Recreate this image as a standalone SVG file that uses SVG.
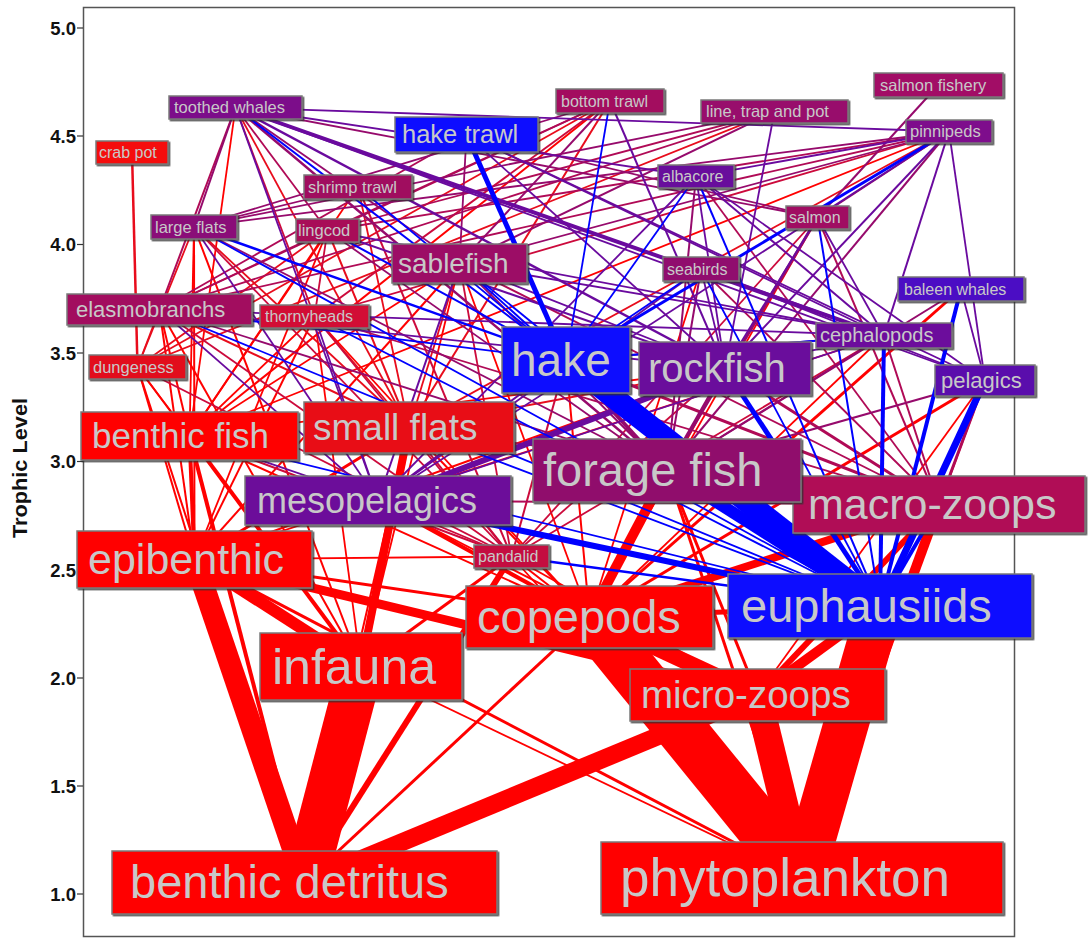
<svg xmlns="http://www.w3.org/2000/svg" width="1091" height="938" viewBox="0 0 1091 938">
<style>
.R{stroke:#ff0000}.D{stroke:#e80c1c}.B{stroke:#0000ff}.P{stroke:#6a0a9e}.M{stroke:#960a6c}.C{stroke:#b00a56}.K{stroke:#cc0a3c}
.bx{stroke:#7a7a7a;stroke-width:1.5}
.t{font-family:"Liberation Sans",Arial,sans-serif;fill:#c8c8c8}
.ax{font-family:"Liberation Sans",Arial,sans-serif;font-weight:bold;fill:#111;font-size:18.5px;text-anchor:end}
</style>
<defs>
<filter id="sh" x="-5%" y="-10%" width="115%" height="130%"><feDropShadow dx="1.5" dy="1.5" stdDeviation="0.7" flood-color="#333" flood-opacity="0.8"/></filter>
</defs>
<rect x="0" y="0" width="1091" height="938" fill="#ffffff"/>
<g id="axes">
<rect x="83.5" y="7.5" width="931" height="929" fill="none" stroke="#555" stroke-width="1.5"/>
<g stroke="#333" stroke-width="1.2">
<line x1="77" y1="28" x2="83" y2="28"/><line x1="77" y1="136" x2="83" y2="136"/><line x1="77" y1="244.5" x2="83" y2="244.5"/><line x1="77" y1="353" x2="83" y2="353"/><line x1="77" y1="461.5" x2="83" y2="461.5"/><line x1="77" y1="570" x2="83" y2="570"/><line x1="77" y1="678" x2="83" y2="678"/><line x1="77" y1="786" x2="83" y2="786"/><line x1="77" y1="894" x2="83" y2="894"/>
</g>
<text class="ax" x="76" y="34.5">5.0</text>
<text class="ax" x="76" y="142.5">4.5</text>
<text class="ax" x="76" y="251">4.0</text>
<text class="ax" x="76" y="359.5">3.5</text>
<text class="ax" x="76" y="468">3.0</text>
<text class="ax" x="76" y="576.5">2.5</text>
<text class="ax" x="76" y="684.5">2.0</text>
<text class="ax" x="76" y="792.5">1.5</text>
<text class="ax" x="76" y="900.5">1.0</text>
<text x="0" y="0" transform="translate(26.5,468) rotate(-90)" font-family="Liberation Sans, Arial, sans-serif" font-weight="bold" font-size="20" fill="#111" text-anchor="middle" textLength="140" lengthAdjust="spacingAndGlyphs">Trophic Level</text>
</g>
<g id="connectors" fill="none" stroke-width="1.8">
<line x1="361" y1="666.5" x2="304.5" y2="882.5" class="R" stroke-width="45"/>
<line x1="194.5" y1="559.5" x2="304.5" y2="882.5" class="R" stroke-width="22"/>
<line x1="757.5" y1="695" x2="304.5" y2="882.5" class="R" stroke-width="18"/>
<line x1="194.5" y1="559.5" x2="361" y2="666.5" class="R" stroke-width="12"/>
<line x1="194.5" y1="559.5" x2="757.5" y2="695" class="R" stroke-width="9"/>
<line x1="589.5" y1="617" x2="802" y2="878" class="R" stroke-width="50"/>
<line x1="880" y1="606" x2="802" y2="878" class="R" stroke-width="45"/>
<line x1="757.5" y1="695" x2="802" y2="878" class="R" stroke-width="28"/>
<line x1="589.5" y1="617" x2="757.5" y2="695" class="R" stroke-width="16"/>
<line x1="880" y1="606" x2="757.5" y2="695" class="R" stroke-width="10"/>
<line x1="880" y1="606" x2="589.5" y2="617" class="R" stroke-width="5"/>
<line x1="939" y1="504.5" x2="802" y2="878" class="R" stroke-width="10"/>
<line x1="939" y1="504.5" x2="589.5" y2="617" class="R" stroke-width="8"/>
<line x1="939" y1="504.5" x2="757.5" y2="695" class="R" stroke-width="6"/>
<line x1="667" y1="470.5" x2="589.5" y2="617" class="R" stroke-width="10"/>
<line x1="409" y1="427.5" x2="361" y2="666.5" class="R" stroke-width="8"/>
<line x1="511.5" y1="556.5" x2="304.5" y2="882.5" class="R" stroke-width="6"/>
<line x1="189.5" y1="436" x2="304.5" y2="882.5" class="R" stroke-width="4"/>
<line x1="189.5" y1="436" x2="194.5" y2="559.5" class="R" stroke-width="4"/>
<line x1="189.5" y1="436" x2="361" y2="666.5" class="R" stroke-width="4"/>
<line x1="409" y1="427.5" x2="194.5" y2="559.5" class="R" stroke-width="3"/>
<line x1="985" y1="380.5" x2="589.5" y2="617" class="R" stroke-width="3"/>
<line x1="725" y1="368.5" x2="589.5" y2="617" class="R" stroke-width="3"/>
<line x1="378" y1="500.5" x2="589.5" y2="617" class="R" stroke-width="4"/>
<line x1="667" y1="470.5" x2="757.5" y2="695" class="R" stroke-width="3"/>
<line x1="667" y1="470.5" x2="802" y2="878" class="R" stroke-width="3"/>
<line x1="961" y1="289" x2="589.5" y2="617" class="R" stroke-width="3"/>
<line x1="589.5" y1="617" x2="304.5" y2="882.5" class="R" stroke-width="3"/>
<line x1="511.5" y1="556.5" x2="361" y2="666.5" class="R" stroke-width="3"/>
<line x1="511.5" y1="556.5" x2="589.5" y2="617" class="R" stroke-width="2"/>
<line x1="511.5" y1="556.5" x2="757.5" y2="695" class="R" stroke-width="2"/>
<line x1="511.5" y1="556.5" x2="802" y2="878" class="R"/>
<line x1="511.5" y1="556.5" x2="194.5" y2="559.5" class="R"/>
<line x1="194.5" y1="559.5" x2="802" y2="878" class="R" stroke-width="3"/>
<line x1="194.5" y1="559.5" x2="589.5" y2="617" class="R" stroke-width="3"/>
<line x1="137.5" y1="367" x2="361" y2="666.5" class="R" stroke-width="2"/>
<line x1="137.5" y1="367" x2="194.5" y2="559.5" class="R" stroke-width="2"/>
<line x1="137.5" y1="367" x2="304.5" y2="882.5" class="R" stroke-width="2"/>
<line x1="137.5" y1="367" x2="189.5" y2="436" class="R"/>
<line x1="409" y1="427.5" x2="589.5" y2="617" class="R" stroke-width="2"/>
<line x1="409" y1="427.5" x2="304.5" y2="882.5" class="R" stroke-width="2"/>
<line x1="189.5" y1="436" x2="589.5" y2="617" class="R" stroke-width="2"/>
<line x1="985" y1="380.5" x2="802" y2="878" class="R" stroke-width="2"/>
<line x1="985" y1="380.5" x2="757.5" y2="695" class="R"/>
<line x1="378" y1="500.5" x2="757.5" y2="695" class="R"/>
<line x1="361" y1="666.5" x2="802" y2="878" class="R"/>
<line x1="459.5" y1="263.5" x2="194.5" y2="559.5" class="R" stroke-width="2"/>
<line x1="459.5" y1="263.5" x2="189.5" y2="436" class="R"/>
<line x1="459.5" y1="263.5" x2="361" y2="666.5" class="R"/>
<line x1="459.5" y1="263.5" x2="589.5" y2="617" class="R"/>
<line x1="327.5" y1="230.5" x2="189.5" y2="436" class="R" stroke-width="2"/>
<line x1="327.5" y1="230.5" x2="194.5" y2="559.5" class="R"/>
<line x1="194" y1="227" x2="189.5" y2="436" class="R"/>
<line x1="194" y1="227" x2="194.5" y2="559.5" class="R" stroke-width="2"/>
<line x1="194" y1="227" x2="361" y2="666.5" class="R" stroke-width="2"/>
<line x1="159.5" y1="309.5" x2="189.5" y2="436" class="R" stroke-width="2"/>
<line x1="159.5" y1="309.5" x2="194.5" y2="559.5" class="R" stroke-width="2"/>
<line x1="159.5" y1="309.5" x2="361" y2="666.5" class="R" stroke-width="2"/>
<line x1="314.5" y1="316.5" x2="194.5" y2="559.5" class="R" stroke-width="2"/>
<line x1="314.5" y1="316.5" x2="189.5" y2="436" class="R"/>
<line x1="314.5" y1="316.5" x2="361" y2="666.5" class="R"/>
<line x1="314.5" y1="316.5" x2="589.5" y2="617" class="R"/>
<line x1="884" y1="335.5" x2="589.5" y2="617" class="R"/>
<line x1="884" y1="335.5" x2="194.5" y2="559.5" class="R"/>
<line x1="725" y1="368.5" x2="194.5" y2="559.5" class="R" stroke-width="2"/>
<line x1="725" y1="368.5" x2="189.5" y2="436" class="R"/>
<line x1="566" y1="360" x2="589.5" y2="617" class="R" stroke-width="2"/>
<line x1="817.5" y1="217.5" x2="589.5" y2="617" class="R"/>
<line x1="701" y1="269" x2="589.5" y2="617" class="R"/>
<line x1="610" y1="101" x2="189.5" y2="436" class="R" stroke-width="2"/>
<line x1="358" y1="187" x2="189.5" y2="436" class="R"/>
<line x1="235.5" y1="107.5" x2="189.5" y2="436" class="R"/>
<line x1="949" y1="131.5" x2="189.5" y2="436" class="R"/>
<line x1="132" y1="152.5" x2="137.5" y2="367" class="D" stroke-width="2.5"/>
<line x1="610" y1="101" x2="409" y2="427.5" class="D" stroke-width="2"/>
<line x1="610" y1="101" x2="137.5" y2="367" class="D"/>
<line x1="774.5" y1="111.5" x2="137.5" y2="367" class="D"/>
<line x1="358" y1="187" x2="409" y2="427.5" class="D"/>
<line x1="235.5" y1="107.5" x2="409" y2="427.5" class="D"/>
<line x1="949" y1="131.5" x2="409" y2="427.5" class="D"/>
<line x1="459.5" y1="263.5" x2="409" y2="427.5" class="D"/>
<line x1="327.5" y1="230.5" x2="409" y2="427.5" class="D" stroke-width="2"/>
<line x1="327.5" y1="230.5" x2="137.5" y2="367" class="D"/>
<line x1="194" y1="227" x2="409" y2="427.5" class="D"/>
<line x1="194" y1="227" x2="137.5" y2="367" class="D"/>
<line x1="159.5" y1="309.5" x2="409" y2="427.5" class="D" stroke-width="2"/>
<line x1="159.5" y1="309.5" x2="137.5" y2="367" class="D"/>
<line x1="314.5" y1="316.5" x2="409" y2="427.5" class="D"/>
<line x1="725" y1="368.5" x2="409" y2="427.5" class="D"/>
<line x1="610" y1="101" x2="314.5" y2="316.5" class="K" stroke-width="2"/>
<line x1="358" y1="187" x2="511.5" y2="556.5" class="K" stroke-width="2"/>
<line x1="235.5" y1="107.5" x2="314.5" y2="316.5" class="K"/>
<line x1="949" y1="131.5" x2="314.5" y2="316.5" class="K"/>
<line x1="327.5" y1="230.5" x2="314.5" y2="316.5" class="K"/>
<line x1="817.5" y1="217.5" x2="511.5" y2="556.5" class="K"/>
<line x1="459.5" y1="263.5" x2="511.5" y2="556.5" class="K"/>
<line x1="194" y1="227" x2="511.5" y2="556.5" class="K"/>
<line x1="159.5" y1="309.5" x2="511.5" y2="556.5" class="K"/>
<line x1="314.5" y1="316.5" x2="511.5" y2="556.5" class="K"/>
<line x1="884" y1="335.5" x2="511.5" y2="556.5" class="K"/>
<line x1="566" y1="360" x2="511.5" y2="556.5" class="K" stroke-width="2"/>
<line x1="725" y1="368.5" x2="511.5" y2="556.5" class="K"/>
<line x1="137.5" y1="367" x2="511.5" y2="556.5" class="K"/>
<line x1="189.5" y1="436" x2="511.5" y2="556.5" class="K" stroke-width="2"/>
<line x1="409" y1="427.5" x2="511.5" y2="556.5" class="K" stroke-width="2"/>
<line x1="378" y1="500.5" x2="511.5" y2="556.5" class="K"/>
<line x1="610" y1="101" x2="159.5" y2="309.5" class="C"/>
<line x1="610" y1="101" x2="327.5" y2="230.5" class="C"/>
<line x1="774.5" y1="111.5" x2="327.5" y2="230.5" class="C"/>
<line x1="774.5" y1="111.5" x2="159.5" y2="309.5" class="C"/>
<line x1="466.5" y1="134.5" x2="159.5" y2="309.5" class="C"/>
<line x1="235.5" y1="107.5" x2="159.5" y2="309.5" class="C" stroke-width="2"/>
<line x1="235.5" y1="107.5" x2="327.5" y2="230.5" class="C"/>
<line x1="949" y1="131.5" x2="159.5" y2="309.5" class="C"/>
<line x1="949" y1="131.5" x2="327.5" y2="230.5" class="C"/>
<line x1="327.5" y1="230.5" x2="159.5" y2="309.5" class="C"/>
<line x1="701" y1="269" x2="939" y2="504.5" class="C"/>
<line x1="696" y1="176.5" x2="939" y2="504.5" class="C"/>
<line x1="817.5" y1="217.5" x2="939" y2="504.5" class="C" stroke-width="2"/>
<line x1="459.5" y1="263.5" x2="939" y2="504.5" class="C"/>
<line x1="314.5" y1="316.5" x2="939" y2="504.5" class="C"/>
<line x1="884" y1="335.5" x2="939" y2="504.5" class="C" stroke-width="2"/>
<line x1="566" y1="360" x2="939" y2="504.5" class="C" stroke-width="3"/>
<line x1="725" y1="368.5" x2="939" y2="504.5" class="C" stroke-width="3"/>
<line x1="985" y1="380.5" x2="939" y2="504.5" class="C" stroke-width="3"/>
<line x1="667" y1="470.5" x2="939" y2="504.5" class="C" stroke-width="3"/>
<line x1="378" y1="500.5" x2="939" y2="504.5" class="C" stroke-width="2"/>
<line x1="409" y1="427.5" x2="939" y2="504.5" class="C"/>
<line x1="610" y1="101" x2="459.5" y2="263.5" class="M" stroke-width="2"/>
<line x1="610" y1="101" x2="194" y2="227" class="M"/>
<line x1="774.5" y1="111.5" x2="459.5" y2="263.5" class="M" stroke-width="2"/>
<line x1="774.5" y1="111.5" x2="194" y2="227" class="M"/>
<line x1="938.5" y1="85" x2="817.5" y2="217.5" class="M" stroke-width="2"/>
<line x1="466.5" y1="134.5" x2="459.5" y2="263.5" class="M"/>
<line x1="466.5" y1="134.5" x2="817.5" y2="217.5" class="M"/>
<line x1="358" y1="187" x2="194" y2="227" class="M"/>
<line x1="235.5" y1="107.5" x2="817.5" y2="217.5" class="M"/>
<line x1="235.5" y1="107.5" x2="667" y2="470.5" class="M" stroke-width="2.5"/>
<line x1="235.5" y1="107.5" x2="459.5" y2="263.5" class="M"/>
<line x1="235.5" y1="107.5" x2="194" y2="227" class="M" stroke-width="2"/>
<line x1="949" y1="131.5" x2="817.5" y2="217.5" class="M" stroke-width="2"/>
<line x1="949" y1="131.5" x2="667" y2="470.5" class="M" stroke-width="2"/>
<line x1="949" y1="131.5" x2="459.5" y2="263.5" class="M"/>
<line x1="949" y1="131.5" x2="194" y2="227" class="M"/>
<line x1="961" y1="289" x2="667" y2="470.5" class="M" stroke-width="2"/>
<line x1="701" y1="269" x2="667" y2="470.5" class="M" stroke-width="2"/>
<line x1="696" y1="176.5" x2="667" y2="470.5" class="M" stroke-width="2"/>
<line x1="817.5" y1="217.5" x2="667" y2="470.5" class="M" stroke-width="3"/>
<line x1="459.5" y1="263.5" x2="667" y2="470.5" class="M" stroke-width="2"/>
<line x1="327.5" y1="230.5" x2="667" y2="470.5" class="M"/>
<line x1="194" y1="227" x2="667" y2="470.5" class="M"/>
<line x1="159.5" y1="309.5" x2="667" y2="470.5" class="M"/>
<line x1="884" y1="335.5" x2="667" y2="470.5" class="M" stroke-width="2"/>
<line x1="566" y1="360" x2="667" y2="470.5" class="M" stroke-width="4"/>
<line x1="725" y1="368.5" x2="667" y2="470.5" class="M" stroke-width="3"/>
<line x1="985" y1="380.5" x2="667" y2="470.5" class="M" stroke-width="2"/>
<line x1="610" y1="101" x2="725" y2="368.5" class="P" stroke-width="2"/>
<line x1="774.5" y1="111.5" x2="725" y2="368.5" class="P"/>
<line x1="466.5" y1="134.5" x2="725" y2="368.5" class="P"/>
<line x1="466.5" y1="134.5" x2="985" y2="380.5" class="P"/>
<line x1="466.5" y1="134.5" x2="884" y2="335.5" class="P"/>
<line x1="235.5" y1="107.5" x2="884" y2="335.5" class="P" stroke-width="4"/>
<line x1="235.5" y1="107.5" x2="725" y2="368.5" class="P" stroke-width="2.5"/>
<line x1="235.5" y1="107.5" x2="985" y2="380.5" class="P"/>
<line x1="235.5" y1="107.5" x2="378" y2="500.5" class="P"/>
<line x1="235.5" y1="107.5" x2="696" y2="176.5" class="P"/>
<line x1="235.5" y1="107.5" x2="949" y2="131.5" class="P"/>
<line x1="949" y1="131.5" x2="725" y2="368.5" class="P" stroke-width="2"/>
<line x1="949" y1="131.5" x2="884" y2="335.5" class="P" stroke-width="2"/>
<line x1="949" y1="131.5" x2="985" y2="380.5" class="P"/>
<line x1="949" y1="131.5" x2="378" y2="500.5" class="P"/>
<line x1="949" y1="131.5" x2="696" y2="176.5" class="P"/>
<line x1="961" y1="289" x2="985" y2="380.5" class="P"/>
<line x1="701" y1="269" x2="884" y2="335.5" class="P"/>
<line x1="701" y1="269" x2="725" y2="368.5" class="P"/>
<line x1="701" y1="269" x2="985" y2="380.5" class="P"/>
<line x1="701" y1="269" x2="378" y2="500.5" class="P"/>
<line x1="696" y1="176.5" x2="884" y2="335.5" class="P" stroke-width="2"/>
<line x1="696" y1="176.5" x2="985" y2="380.5" class="P"/>
<line x1="696" y1="176.5" x2="378" y2="500.5" class="P"/>
<line x1="696" y1="176.5" x2="725" y2="368.5" class="P"/>
<line x1="817.5" y1="217.5" x2="884" y2="335.5" class="P"/>
<line x1="817.5" y1="217.5" x2="725" y2="368.5" class="P"/>
<line x1="459.5" y1="263.5" x2="378" y2="500.5" class="P" stroke-width="2"/>
<line x1="459.5" y1="263.5" x2="884" y2="335.5" class="P"/>
<line x1="459.5" y1="263.5" x2="725" y2="368.5" class="P"/>
<line x1="327.5" y1="230.5" x2="725" y2="368.5" class="P" stroke-width="2"/>
<line x1="327.5" y1="230.5" x2="884" y2="335.5" class="P"/>
<line x1="194" y1="227" x2="378" y2="500.5" class="P"/>
<line x1="159.5" y1="309.5" x2="725" y2="368.5" class="P"/>
<line x1="159.5" y1="309.5" x2="884" y2="335.5" class="P"/>
<line x1="159.5" y1="309.5" x2="378" y2="500.5" class="P"/>
<line x1="314.5" y1="316.5" x2="378" y2="500.5" class="P"/>
<line x1="884" y1="335.5" x2="378" y2="500.5" class="P"/>
<line x1="566" y1="360" x2="378" y2="500.5" class="P" stroke-width="2"/>
<line x1="566" y1="360" x2="884" y2="335.5" class="P"/>
<line x1="725" y1="368.5" x2="378" y2="500.5" class="P" stroke-width="6"/>
<line x1="725" y1="368.5" x2="884" y2="335.5" class="P"/>
<line x1="189.5" y1="436" x2="378" y2="500.5" class="P"/>
<line x1="466.5" y1="134.5" x2="566" y2="360" class="B" stroke-width="5"/>
<line x1="610" y1="101" x2="566" y2="360" class="B"/>
<line x1="358" y1="187" x2="566" y2="360" class="B"/>
<line x1="235.5" y1="107.5" x2="566" y2="360" class="B" stroke-width="2"/>
<line x1="949" y1="131.5" x2="566" y2="360" class="B" stroke-width="3"/>
<line x1="701" y1="269" x2="566" y2="360" class="B"/>
<line x1="696" y1="176.5" x2="566" y2="360" class="B"/>
<line x1="459.5" y1="263.5" x2="566" y2="360" class="B" stroke-width="2"/>
<line x1="327.5" y1="230.5" x2="566" y2="360" class="B" stroke-width="2"/>
<line x1="194" y1="227" x2="566" y2="360" class="B" stroke-width="2.5"/>
<line x1="159.5" y1="309.5" x2="566" y2="360" class="B"/>
<line x1="884" y1="335.5" x2="566" y2="360" class="B"/>
<line x1="961" y1="289" x2="880" y2="606" class="B" stroke-width="4"/>
<line x1="701" y1="269" x2="880" y2="606" class="B"/>
<line x1="696" y1="176.5" x2="880" y2="606" class="B" stroke-width="2"/>
<line x1="817.5" y1="217.5" x2="880" y2="606" class="B" stroke-width="2"/>
<line x1="459.5" y1="263.5" x2="880" y2="606" class="B"/>
<line x1="194" y1="227" x2="880" y2="606" class="B"/>
<line x1="159.5" y1="309.5" x2="880" y2="606" class="B"/>
<line x1="314.5" y1="316.5" x2="880" y2="606" class="B"/>
<line x1="884" y1="335.5" x2="880" y2="606" class="B" stroke-width="4"/>
<line x1="566" y1="360" x2="880" y2="606" class="B" stroke-width="22"/>
<line x1="725" y1="368.5" x2="880" y2="606" class="B" stroke-width="5"/>
<line x1="985" y1="380.5" x2="880" y2="606" class="B" stroke-width="7"/>
<line x1="189.5" y1="436" x2="880" y2="606" class="B"/>
<line x1="409" y1="427.5" x2="880" y2="606" class="B"/>
<line x1="667" y1="470.5" x2="880" y2="606" class="B" stroke-width="12"/>
<line x1="378" y1="500.5" x2="880" y2="606" class="B" stroke-width="6"/>
<line x1="939" y1="504.5" x2="880" y2="606" class="B" stroke-width="4"/>
<line x1="511.5" y1="556.5" x2="880" y2="606" class="B" stroke-width="2.5"/>
</g>
<g id="node-crab-pot"><rect class="bx" filter="url(#sh)" x="96" y="141" width="72" height="23" fill="#f50a0a"/><text class="t" x="99" y="158" font-size="16">crab pot</text></g>
<g id="node-toothed-whales"><rect class="bx" filter="url(#sh)" x="169" y="96" width="133" height="23" fill="#7c0a8a"/><text class="t" x="174" y="113" font-size="16.5">toothed whales</text></g>
<g id="node-bottom-trawl"><rect class="bx" filter="url(#sh)" x="556" y="89" width="108" height="24" fill="#a30a5e"/><text class="t" x="561" y="106.5" font-size="16">bottom trawl</text></g>
<g id="node-line-trap-and-pot"><rect class="bx" filter="url(#sh)" x="701" y="100" width="147" height="23" fill="#980a6c"/><text class="t" x="706" y="117" font-size="16.5">line, trap and pot</text></g>
<g id="node-salmon-fishery"><rect class="bx" filter="url(#sh)" x="874" y="73" width="129" height="24" fill="#a20a66"/><text class="t" x="880" y="90.5" font-size="16.5">salmon fishery</text></g>
<g id="node-pinnipeds"><rect class="bx" filter="url(#sh)" x="906" y="120" width="86" height="23" fill="#7e0a8c"/><text class="t" x="910" y="137" font-size="16.5">pinnipeds</text></g>
<g id="node-hake-trawl"><rect class="bx" filter="url(#sh)" x="395" y="117" width="143" height="35" fill="#0a0aff"/><text class="t" x="402" y="143" font-size="25.5">hake trawl</text></g>
<g id="node-albacore"><rect class="bx" filter="url(#sh)" x="658" y="165" width="76" height="23" fill="#680a9c"/><text class="t" x="662" y="182" font-size="16">albacore</text></g>
<g id="node-shrimp-trawl"><rect class="bx" filter="url(#sh)" x="304" y="175" width="108" height="24" fill="#a00a5e"/><text class="t" x="308" y="192.5" font-size="16.5">shrimp trawl</text></g>
<g id="node-large-flats"><rect class="bx" filter="url(#sh)" x="151" y="215" width="86" height="24" fill="#8a0a78"/><text class="t" x="155" y="232.5" font-size="16.5">large flats</text></g>
<g id="node-lingcod"><rect class="bx" filter="url(#sh)" x="296" y="219" width="63" height="23" fill="#a80a58"/><text class="t" x="298" y="236" font-size="16.5">lingcod</text></g>
<g id="node-salmon"><rect class="bx" filter="url(#sh)" x="786" y="206" width="63" height="23" fill="#a00a62"/><text class="t" x="789" y="223" font-size="16">salmon</text></g>
<g id="node-sablefish"><rect class="bx" filter="url(#sh)" x="392" y="244" width="135" height="39" fill="#9c0a66"/><text class="t" x="398" y="273" font-size="28">sablefish</text></g>
<g id="node-seabirds"><rect class="bx" filter="url(#sh)" x="663" y="257" width="76" height="24" fill="#900a6e"/><text class="t" x="667" y="274.5" font-size="16">seabirds</text></g>
<g id="node-baleen-whales"><rect class="bx" filter="url(#sh)" x="898" y="277" width="126" height="24" fill="#4c0ac4"/><text class="t" x="904" y="294.5" font-size="16">baleen whales</text></g>
<g id="node-elasmobranchs"><rect class="bx" filter="url(#sh)" x="67" y="294" width="185" height="31" fill="#a20a5e"/><text class="t" x="76" y="317" font-size="22">elasmobranchs</text></g>
<g id="node-thornyheads"><rect class="bx" filter="url(#sh)" x="260" y="305" width="109" height="23" fill="#d20a36"/><text class="t" x="265" y="322" font-size="16">thornyheads</text></g>
<g id="node-cephalopods"><rect class="bx" filter="url(#sh)" x="816" y="323" width="136" height="25" fill="#6c0a9c"/><text class="t" x="820" y="342" font-size="20">cephalopods</text></g>
<g id="node-hake"><rect class="bx" filter="url(#sh)" x="502" y="327" width="128" height="66" fill="#0a0aff"/><text class="t" x="511" y="376" font-size="46">hake</text></g>
<g id="node-rockfish"><rect class="bx" filter="url(#sh)" x="639" y="342" width="172" height="53" fill="#6a0a9c"/><text class="t" x="648" y="382" font-size="40">rockfish</text></g>
<g id="node-pelagics"><rect class="bx" filter="url(#sh)" x="935" y="365" width="100" height="31" fill="#5a0aac"/><text class="t" x="941" y="388" font-size="22">pelagics</text></g>
<g id="node-dungeness"><rect class="bx" filter="url(#sh)" x="89" y="355" width="97" height="24" fill="#e20a1e"/><text class="t" x="93" y="372.5" font-size="16.5">dungeness</text></g>
<g id="node-benthic-fish"><rect class="bx" filter="url(#sh)" x="81" y="412" width="217" height="48" fill="#ff0000"/><text class="t" x="92" y="448" font-size="35">benthic fish</text></g>
<g id="node-small-flats"><rect class="bx" filter="url(#sh)" x="304" y="402" width="210" height="51" fill="#e80a18"/><text class="t" x="313" y="440" font-size="37">small flats</text></g>
<g id="node-mesopelagics"><rect class="bx" filter="url(#sh)" x="245" y="476" width="266" height="49" fill="#6c0a9a"/><text class="t" x="257" y="513" font-size="36">mesopelagics</text></g>
<g id="node-macro-zoops"><rect class="bx" filter="url(#sh)" x="793" y="476" width="292" height="57" fill="#b00a56"/><text class="t" x="808" y="519" font-size="43">macro-zoops</text></g>
<g id="node-forage-fish"><rect class="bx" filter="url(#sh)" x="533" y="439" width="268" height="63" fill="#900a6c"/><text class="t" x="543" y="486" font-size="47">forage fish</text></g>
<g id="node-epibenthic"><rect class="bx" filter="url(#sh)" x="77" y="531" width="235" height="57" fill="#ff0000"/><text class="t" x="88" y="574" font-size="43">epibenthic</text></g>
<g id="node-pandalid"><rect class="bx" filter="url(#sh)" x="474" y="545" width="75" height="23" fill="#c40a40"/><text class="t" x="478" y="562" font-size="16">pandalid</text></g>
<g id="node-copepods"><rect class="bx" filter="url(#sh)" x="466" y="586" width="247" height="62" fill="#ff0000"/><text class="t" x="477" y="633" font-size="47">copepods</text></g>
<g id="node-euphausiids"><rect class="bx" filter="url(#sh)" x="728" y="574" width="304" height="64" fill="#0a0aff"/><text class="t" x="741" y="622" font-size="47">euphausiids</text></g>
<g id="node-infauna"><rect class="bx" filter="url(#sh)" x="260" y="633" width="202" height="67" fill="#ff0000"/><text class="t" x="272" y="684" font-size="50">infauna</text></g>
<g id="node-micro-zoops"><rect class="bx" filter="url(#sh)" x="630" y="669" width="255" height="52" fill="#ff0000"/><text class="t" x="641" y="708" font-size="38.5">micro-zoops</text></g>
<g id="node-benthic-detritus"><rect class="bx" filter="url(#sh)" x="112" y="851" width="385" height="63" fill="#ff0000"/><text class="t" x="130" y="898" font-size="47">benthic detritus</text></g>
<g id="node-phytoplankton"><rect class="bx" filter="url(#sh)" x="601" y="842" width="402" height="72" fill="#ff0000"/><text class="t" x="620" y="896" font-size="53">phytoplankton</text></g>
</svg>
